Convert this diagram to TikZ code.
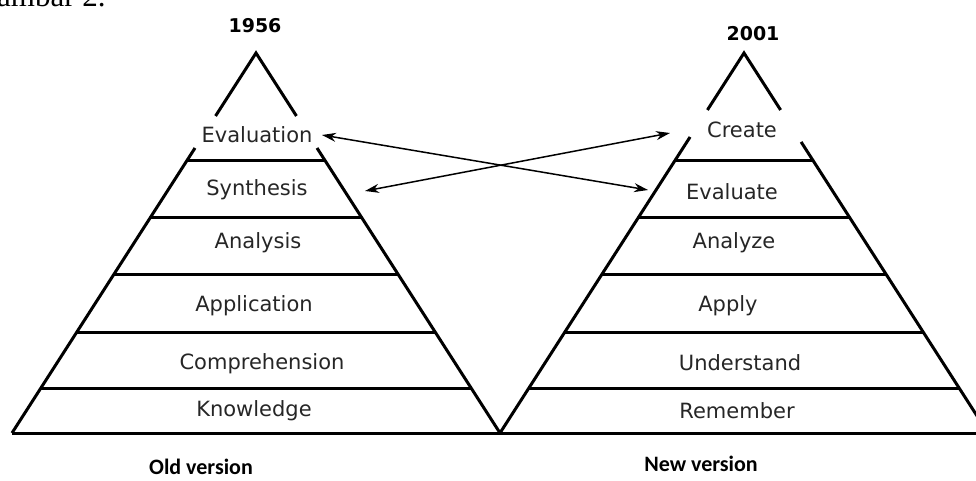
\documentclass[tikz,border=0pt]{standalone}
\usepackage{fontspec}
\setmainfont{DejaVu Sans}
\newfontfamily\captionfont{Carlito}
\newfontfamily\docfont{Liberation Serif}
\usetikzlibrary{arrows.meta,calc}

\begin{document}
\begin{tikzpicture}[x=1pt,y=-1pt,
  edge/.style={line width=3pt, line join=miter},
  level/.style={font=\fontsize{21}{24}\selectfont, text=black!85, inner sep=0pt},
  year/.style={font=\fontsize{19}{22}\selectfont\bfseries, inner sep=0pt},
  version/.style={font=\captionfont\fontsize{22}{26}\selectfont\bfseries, inner sep=0pt},
  link/.style={line width=1.5pt, {Stealth[length=14pt,width=9pt]}-{Stealth[length=14pt,width=9pt]}}
]
\useasboundingbox (0,0) rectangle (976,481);
\clip (0,0) rectangle (976,481);

% running text of the page above the figure
\node[anchor=base west, font=\docfont\fontsize{31}{36}\selectfont, inner sep=0pt] (fragment) at (-3,7) {ambar 2.};

% ---- 1956 pyramid ----
\coordinate (A)  at (256,53);
\coordinate (AL) at (12,433);
\coordinate (AR) at (500,433);
\draw[edge] ($(A)!0.1658!(AL)$) -- (A) -- ($(A)!0.1658!(AR)$);
\draw[edge] ($(A)!0.25!(AL)$) -- (AL);
\draw[edge] ($(A)!0.25!(AR)$) -- (AR);
\foreach \t in {0.2816,0.4342,0.5816,0.7368,0.8842}
  \draw[edge] ($(A)!\t!(AL)$) -- ($(A)!\t!(AR)$);

% ---- 2001 pyramid ----
\coordinate (B)  at (744,53);
\coordinate (BL) at (500,433);
\coordinate (BR) at (988,433);
\draw[edge] ($(B)!0.15!(BL)$) -- (B) -- ($(B)!0.15!(BR)$);
\draw[edge] ($(B)!0.221!(BL)$) -- (BL);
\draw[edge] ($(B)!0.234!(BR)$) -- (BR);
\foreach \t in {0.2816,0.4342,0.5816,0.7368,0.8842}
  \draw[edge] ($(B)!\t!(BL)$) -- ($(B)!\t!(BR)$);

% common base line
\draw[edge] (AL) -- (BR);

% ---- titles ----
\node[year] (y1956) at (255,26) {1956};
\node[year] (y2001) at (753,34) {2001};
\node[version] (old) at (201,467) {Old version};
\node[version] (new) at (701,464) {New version};

% ---- levels, old taxonomy ----
\node[level] (evaluation)    at (257,135) {Evaluation};
\node[level] (synthesis)     at (257,190) {Synthesis};
\node[level] (analysis)      at (258,243) {Analysis};
\node[level] (application)   at (254,306) {Application};
\node[level] (comprehension) at (262,364) {Comprehension};
\node[level] (knowledge)     at (254,411) {Knowledge};

% ---- levels, revised taxonomy ----
\node[level] (create)     at (742,130) {Create};
\node[level] (evaluate)   at (732,192) {Evaluate};
\node[level] (analyze)    at (734,243) {Analyze};
\node[level] (apply)      at (728,306) {Apply};
\node[level] (understand) at (740,363) {Understand};
\node[level] (remember)   at (737,411) {Remember};

% ---- correspondence arrows ----
\coordinate (evalTip)     at (322,135);
\coordinate (evaluateTip) at (648,190);
\coordinate (synthTip)    at (365,191);
\coordinate (createTip)   at (670,133);
\draw[link] (evalTip) -- (evaluateTip);
\draw[link] (synthTip) -- (createTip);
\end{tikzpicture}
\end{document}
